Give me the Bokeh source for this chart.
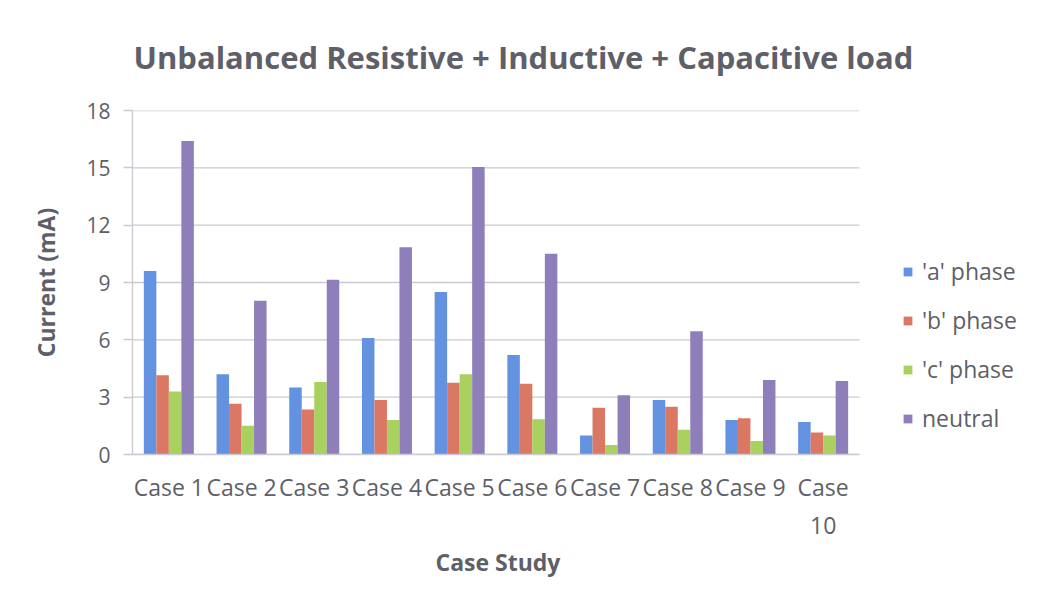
import numpy as np
from bokeh.plotting import figure
from bokeh.models import Range1d, Legend, LegendItem, ColumnDataSource, FixedTicker, Title
from bokeh.embed import file_html
from bokeh.resources import INLINE

cases = ["Case 1", "Case 2", "Case 3", "Case 4", "Case 5",
         "Case 6", "Case 7", "Case 8", "Case 9", "Case\n10"]
phase_a = [9.6, 4.2, 3.5, 6.1, 8.5, 5.2, 1.0, 2.85, 1.8, 1.7]
phase_b = [4.15, 2.65, 2.35, 2.85, 3.75, 3.7, 2.45, 2.5, 1.9, 1.15]
phase_c = [3.3, 1.5, 3.8, 1.8, 4.2, 1.85, 0.5, 1.3, 0.7, 1.0]
neutral = [16.4, 8.05, 9.15, 10.85, 15.05, 10.5, 3.1, 6.45, 3.9, 3.85]
series_names = ["'a' phase", "'b' phase", "'c' phase", "neutral"]
y_ticks = [0, 3, 6, 9, 12, 15, 18]

colors = ["#6392E0", "#DA7864", "#A9D160", "#8E7FBA"]
text_color = "#5e5f68"
grid_color = "#c9cad3"
FONT = "Open Sans"

W, H = 1026, 591
left_b, right_b, top_b, bottom_b = 132, 4, 110, 137
plot_w = 727  # pixel width of the category area
n = len(cases)
pos = np.arange(1, n + 1)
x_start = 0.5
x_stop = n + 0.5
frame_w = W - left_b - right_b
x_end = x_start + (x_stop - x_start) * frame_w / plot_w

source = ColumnDataSource(dict(x=pos, a=phase_a, b=phase_b, c=phase_c, n=neutral))

p = figure(width=W, height=H, x_range=Range1d(x_start, x_end), y_range=Range1d(0, 18),
           output_backend="svg", toolbar_location=None,
           min_border_left=left_b, min_border_right=right_b,
           min_border_top=top_b, min_border_bottom=bottom_b,
           title="Unbalanced Resistive + Inductive + Capacitive load")

p.title.text_font = FONT
p.title.text_font_size = "31px"
p.title.text_font_style = "bold"
p.title.text_color = text_color
p.title.align = "left"
p.title.offset = 1
p.title.standoff = 65

# horizontal gridlines limited to the category area
p.segment(x0=[x_start] * len(y_ticks), x1=[x_stop] * len(y_ticks), y0=y_ticks, y1=y_ticks,
          line_color=grid_color, line_width=1.3)

bw = 0.172
offsets = [-1.5 * bw, -0.5 * bw, 0.5 * bw, 1.5 * bw]
renderers = []
for key, off, col in zip(["a", "b", "c", "n"], offsets, colors):
    r = p.vbar(x=pos + off, top=source.data[key], width=bw,
               fill_color=col, line_color=None)
    renderers.append(r)

p.outline_line_color = None
p.xgrid.grid_line_color = None
p.ygrid.grid_line_color = None
p.yaxis.ticker = FixedTicker(ticks=y_ticks)
p.xaxis.ticker = FixedTicker(ticks=list(pos))
p.xaxis.major_label_overrides = {int(i): lab for i, lab in zip(pos, cases)}
p.xaxis.bounds = (x_start, x_stop)

for ax in (p.xaxis, p.yaxis):
    ax.axis_line_color = grid_color
    ax.axis_line_width = 1.3
    ax.major_label_text_font = FONT
    ax.major_label_text_color = text_color
    ax.axis_label_text_font = FONT
    ax.axis_label_text_font_size = "23px"
    ax.axis_label_text_font_style = "bold"
    ax.axis_label_text_color = text_color
    ax.minor_tick_line_color = None

p.xaxis.major_label_text_font_size = "23px"
p.xaxis.major_tick_line_color = None
p.xaxis.major_tick_out = 0
p.xaxis.major_label_standoff = 16

xtitle = Title(text="Case Study", align="left", offset=303, standoff=0,
               text_font=FONT, text_font_size="23px", text_font_style="bold",
               text_color=text_color)
p.add_layout(xtitle, "below")

p.yaxis.major_label_text_font_size = "21px"
p.yaxis.major_tick_line_color = grid_color
p.yaxis.major_tick_line_width = 1.3
p.yaxis.major_tick_out = 9
p.yaxis.major_tick_in = 0
p.yaxis.major_label_standoff = 13
p.yaxis.axis_label = "Current (mA)"
p.yaxis.axis_label_standoff = 21

legend = Legend(items=[LegendItem(label=nm, renderers=[r]) for nm, r in zip(series_names, renderers)],
                location=(770, 20), orientation="vertical",
                glyph_width=11, glyph_height=11, label_height=20, spacing=17,
                label_standoff=9, padding=0, margin=0,
                border_line_color=None, background_fill_alpha=0,
                label_text_font=FONT, label_text_font_size="23px", label_text_color=text_color)
p.add_layout(legend, "center")

open("out.html", "w").write(file_html(p, INLINE))
